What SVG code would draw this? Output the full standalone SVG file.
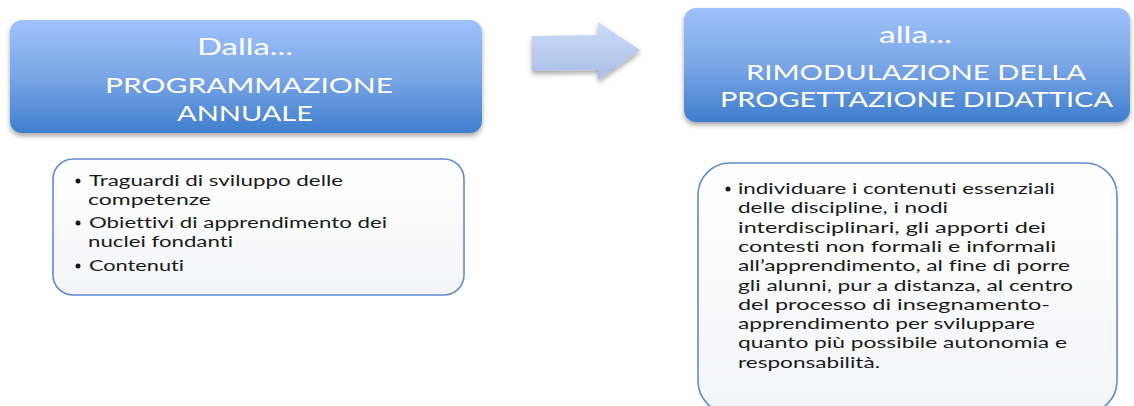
<svg xmlns="http://www.w3.org/2000/svg" width="1134" height="406" viewBox="0 0 1134 406">
<defs>
<linearGradient id="hdr" x1="0" y1="0" x2="0" y2="1">
<stop offset="0" stop-color="#9fc2fc"/>
<stop offset="0.5" stop-color="#7aa6e6"/>
<stop offset="1" stop-color="#3f7ecd"/>
</linearGradient>
<linearGradient id="arr" x1="0" y1="0" x2="0" y2="1">
<stop offset="0" stop-color="#cddcf8"/>
<stop offset="1" stop-color="#a8bde6"/>
</linearGradient>
<linearGradient id="lst" x1="0" y1="0" x2="0" y2="1">
<stop offset="0" stop-color="#ffffff"/>
<stop offset="1" stop-color="#f4f5f7"/>
</linearGradient>
<filter id="sh" x="-10%" y="-20%" width="120%" height="150%">
<feDropShadow dx="0" dy="3" stdDeviation="2.5" flood-color="#000" flood-opacity="0.35"/>
</filter>
</defs>
<style>
.hdr{fill:url(#hdr);filter:url(#sh)}
.ht{font-family:Lato,"Open Sans","Liberation Sans",sans-serif;fill:#ffffff;font-variant-ligatures:none}
.lst{fill:url(#lst);stroke:#5f8dcf;stroke-width:1.6}
.lt{font-family:Lato,"Open Sans","Liberation Sans",sans-serif;fill:#1a1a1a;font-variant-ligatures:none}
.bul{fill:#1a1a1a}
</style>

<g id="connectors">
<path d="M532,36 L598,35 L598,22 L640,50 L598,80 L598,70 L532,71 Z" fill="url(#arr)" filter="url(#sh)"/>
</g>

<g id="node-programmazione">
<rect class="hdr" x="10" y="20" width="472" height="113" rx="12"/>
<text class="ht" x="197" y="55" font-size="24" textLength="96" lengthAdjust="spacingAndGlyphs">Dalla...</text>
<text class="ht" x="105" y="93" font-size="22" textLength="288" lengthAdjust="spacingAndGlyphs">PROGRAMMAZIONE</text>
<text class="ht" x="177" y="121" font-size="22" textLength="136" lengthAdjust="spacingAndGlyphs">ANNUALE</text>
</g>

<g id="node-rimodulazione">
<rect class="hdr" x="684" y="8" width="446" height="114" rx="12"/>
<text class="ht" x="879" y="43" font-size="24" textLength="73" lengthAdjust="spacingAndGlyphs">alla...</text>
<text class="ht" x="746" y="80" font-size="22" textLength="340" lengthAdjust="spacingAndGlyphs">RIMODULAZIONE DELLA</text>
<text class="ht" x="720" y="107" font-size="22" textLength="393" lengthAdjust="spacingAndGlyphs">PROGETTAZIONE DIDATTICA</text>
</g>

<g id="node-elenco-programmazione">
<rect class="lst" x="53" y="159" width="411" height="136" rx="20"/>
<circle class="bul" cx="78" cy="181" r="2.5"/>
<circle class="bul" cx="78" cy="223" r="2.5"/>
<circle class="bul" cx="78" cy="266" r="2.5"/>
<g class="lt" font-size="15.5">
<text x="89" y="186" textLength="254" lengthAdjust="spacingAndGlyphs">Traguardi di sviluppo delle</text>
<text x="88" y="205" textLength="123" lengthAdjust="spacingAndGlyphs">competenze</text>
<text x="89" y="228" textLength="298" lengthAdjust="spacingAndGlyphs">Obiettivi di apprendimento dei</text>
<text x="88" y="247" textLength="145" lengthAdjust="spacingAndGlyphs">nuclei fondanti</text>
<text x="89" y="271" textLength="95" lengthAdjust="spacingAndGlyphs">Contenuti</text>
</g>
</g>

<g id="node-elenco-rimodulazione">
<rect class="lst" x="698" y="163" width="419" height="250" rx="32"/>
<circle class="bul" cx="728" cy="189" r="2.5"/>
<g class="lt" font-size="16">
<text x="738" y="194" textLength="317" lengthAdjust="spacingAndGlyphs">individuare i contenuti essenziali</text>
<text x="738" y="213.3" textLength="210" lengthAdjust="spacingAndGlyphs">delle discipline, i nodi</text>
<text x="738" y="232.6" textLength="308" lengthAdjust="spacingAndGlyphs">interdisciplinari, gli apporti dei</text>
<text x="738" y="251.9" textLength="318" lengthAdjust="spacingAndGlyphs">contesti non formali e informali</text>
<text x="738" y="271.2" textLength="332" lengthAdjust="spacingAndGlyphs">all’apprendimento, al fine di porre</text>
<text x="738" y="290.5" textLength="335" lengthAdjust="spacingAndGlyphs">gli alunni, pur a distanza, al centro</text>
<text x="738" y="309.8" textLength="312" lengthAdjust="spacingAndGlyphs">del processo di insegnamento-</text>
<text x="738" y="329.1" textLength="297" lengthAdjust="spacingAndGlyphs">apprendimento per sviluppare</text>
<text x="738" y="348.4" textLength="329" lengthAdjust="spacingAndGlyphs">quanto più possibile autonomia e</text>
<text x="738" y="367.7" textLength="142" lengthAdjust="spacingAndGlyphs">responsabilità.</text>
</g>
</g>
</svg>
